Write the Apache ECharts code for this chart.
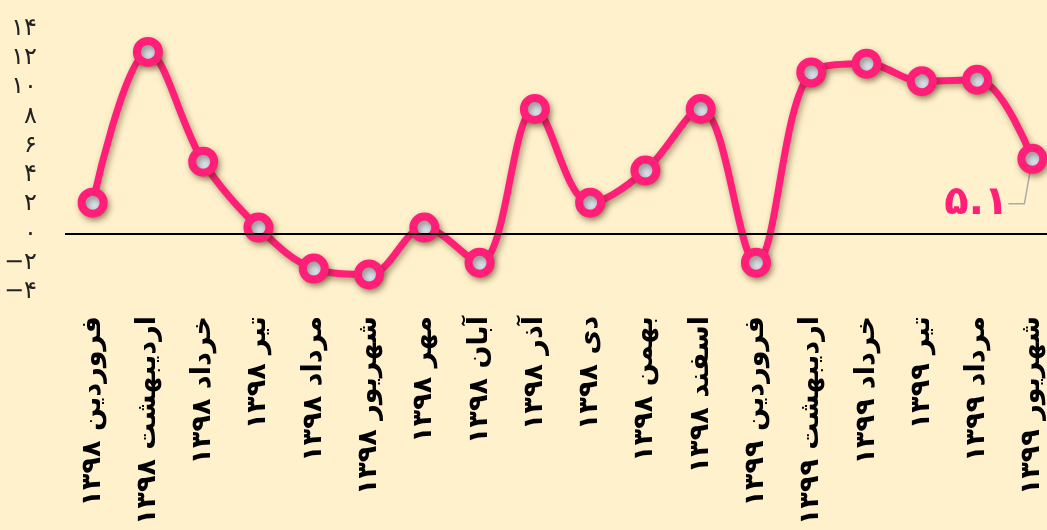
<!DOCTYPE html>
<html>
<head>
<meta charset="utf-8">
<style>
  html, body { margin: 0; padding: 0; background: #fff1cc; }
  #chart { width: 1047px; height: 530px; }
</style>
<script src="https://cdn.jsdelivr.net/npm/echarts@6/dist/echarts.min.js"></script>
</head>
<body>
<div id="chart"></div>
<script>
const categories = [
  'فروردین ۱۳۹۸', 'اردیبهشت ۱۳۹۸', 'خرداد ۱۳۹۸', 'تیر ۱۳۹۸', 'مرداد ۱۳۹۸', 'شهریور ۱۳۹۸',
  'مهر ۱۳۹۸', 'آبان ۱۳۹۸', 'آذر ۱۳۹۸', 'دی ۱۳۹۸', 'بهمن ۱۳۹۸', 'اسفند ۱۳۹۸',
  'فروردین ۱۳۹۹', 'اردیبهشت ۱۳۹۹', 'خرداد ۱۳۹۹', 'تیر ۱۳۹۹', 'مرداد ۱۳۹۹', 'شهریور ۱۳۹۹'
];
const values = [2.1, 12.4, 4.9, 0.4, -2.4, -2.8, 0.4, -2.0, 8.5, 2.1, 4.3, 8.5, -2.0, 11.0, 11.6, 10.4, 10.5, 5.1];
const yMin = -4, yMax = 14, yStep = 2;

const faDigits = '۰۱۲۳۴۵۶۷۸۹';
function toFa(s) {
  return String(s).replace(/[0-9]/g, d => faDigits[+d]).replace(/-/g, '−');
}

const lastIdx = values.length - 1;
const seriesData = values.map((v, i) => {
  if (i !== lastIdx) return v;
  return {
    value: v,
    label: { show: true },
    labelLine: { show: true }
  };
});

const chart = echarts.init(document.getElementById('chart'));
chart.setOption({
  backgroundColor: '#fff1cc',
  animation: false,
  grid: { left: 65, width: 995, top: 28.5, bottom: 238, outerBoundsMode: 'none', containLabel: false },
  xAxis: {
    type: 'category',
    data: categories,
    boundaryGap: true,
    axisLine: { show: false },
    axisTick: { show: false },
    axisLabel: {
      interval: 0,
      rotate: 90,
      margin: 24,
      color: '#000',
      fontFamily: 'DejaVu Sans',
      fontWeight: 'bold',
      fontSize: 27
    }
  },
  yAxis: {
    type: 'value',
    min: yMin, max: yMax, interval: yStep,
    axisLine: { show: false },
    axisTick: { show: false },
    splitLine: { show: false },
    axisLabel: {
      margin: 28,
      color: '#222',
      fontFamily: 'DejaVu Sans',
      fontSize: 24,
      formatter: v => toFa(v)
    }
  },
  series: [{
    type: 'line',
    data: seriesData,
    smooth: 0.35,
    symbol: 'circle',
    symbolSize: 22,
    lineStyle: {
      color: '#ff1f78', width: 7,
      shadowColor: 'rgba(60,40,0,0.45)', shadowBlur: 6, shadowOffsetX: 2, shadowOffsetY: 3
    },
    itemStyle: {
      color: '#dde4f2', borderColor: '#ff1f78', borderWidth: 8,
      shadowColor: 'rgba(60,40,0,0.45)', shadowBlur: 6, shadowOffsetX: 2, shadowOffsetY: 3
    },
    label: {
      show: false,
      position: 'left',
      padding: [0, 12, 12, 0],
      formatter: p => toFa(p.value),
      color: '#ff1f78',
      fontFamily: 'DejaVu Sans',
      fontWeight: 'bold',
      fontSize: 40
    },
    labelLine: {
      show: false,
      length2: 16,
      lineStyle: { color: '#aaaaaa', width: 1.5 }
    },
    labelLayout: p => (p.dataIndex === lastIdx ? { dx: 8, dy: 45 } : {}),
    markLine: {
      silent: true,
      symbol: 'none',
      label: { show: false },
      lineStyle: { color: '#000', width: 2, type: 'solid' },
      data: [{ yAxis: 0 }]
    },
    z: 3
  }]
});
</script>
</body>
</html>
